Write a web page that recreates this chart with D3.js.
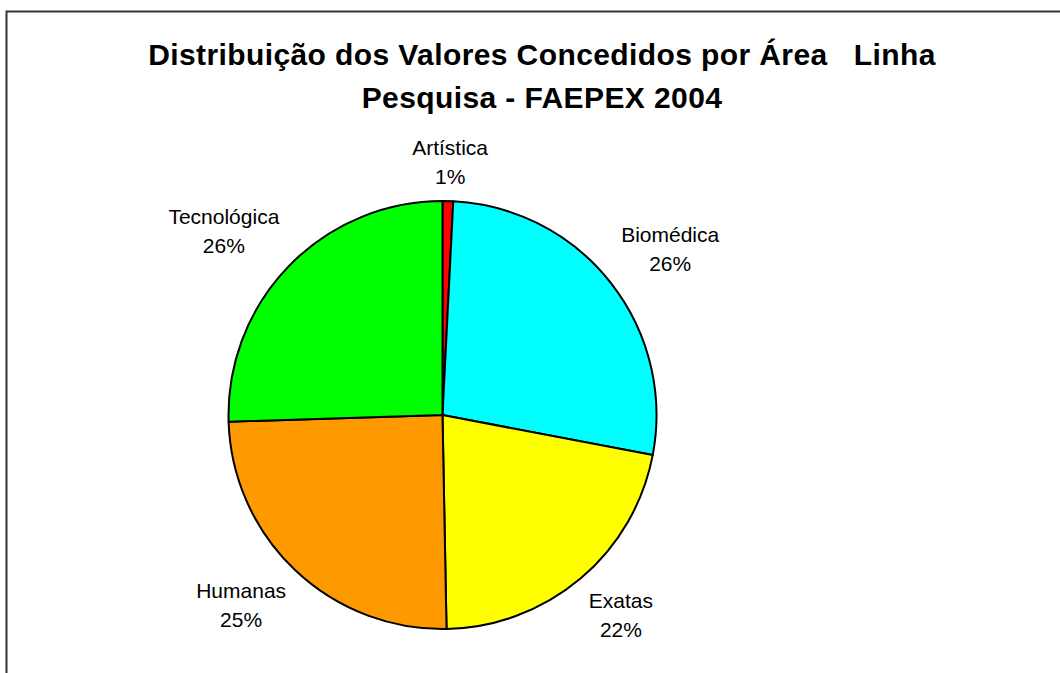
<!DOCTYPE html>
<html>
<head>
<meta charset="utf-8">
<script src="https://cdn.jsdelivr.net/npm/d3@7"></script>
<style>
  body { margin: 0; background: #fff; }
  text { font-family: "Liberation Sans", Arial, sans-serif; fill: #000; }
</style>
</head>
<body>
<svg id="chart" width="1060" height="673"></svg>
<script>
// slice data (clockwise from 12 o'clock)
var categories = ["Artística", "Biomédica", "Exatas", "Humanas", "Tecnológica"];
var values = [0.8, 27.2, 21.7, 24.8, 25.5];
var pctLabels = ["1%", "26%", "22%", "25%", "26%"];
var sliceColors = ["#ff0000", "#00ffff", "#ffff00", "#ff9900", "#00ff00"];
var titleLines = ["Distribuição dos Valores Concedidos por Área   Linha", "Pesquisa - FAEPEX 2004"];

var width = 1060,
    height = 673,
    cx = 442.5,
    cy = 415,
    radius = 214,
    labelRadius = 227;

var svg = d3.select("#chart");

// outer frame, runs off the right and bottom edges
svg.append("rect")
    .attr("x", 6.5)
    .attr("y", 11.5)
    .attr("width", width + 20)
    .attr("height", height + 20)
    .style("fill", "none")
    .style("stroke", "#333")
    .style("stroke-width", 2);

var title = svg.append("text")
    .attr("text-anchor", "middle")
    .attr("xml:space", "preserve")
    .style("font-weight", "bold")
    .style("font-size", "30px")
    .style("letter-spacing", "0.4px");
title.selectAll("tspan").data(titleLines).enter().append("tspan")
    .attr("x", 542)
    .attr("y", function(d, i) { return 65 + i * 43; })
    .text(function(d) { return d; });

var data = categories.map(function(c, i) { return {name: c, value: values[i], pct: pctLabels[i], color: sliceColors[i]}; });

var pie = d3.pie().sort(null).value(function(d) { return d.value; });
var arc = d3.arc().innerRadius(0).outerRadius(radius);

var g = svg.append("g").attr("transform", "translate(" + cx + "," + cy + ")");

g.selectAll("path.slice").data(pie(data)).enter().append("path")
    .attr("class", "slice")
    .attr("d", arc)
    .style("fill", function(d) { return d.data.color; })
    .style("stroke", "#000")
    .style("stroke-width", 2)
    .style("stroke-linejoin", "round");

// labels: the box corner facing the pie sits on labelRadius at the mid angle
// (near the vertical/horizontal the box slides back to centred)
var labels = g.selectAll("g.label").data(pie(data)).enter().append("g").attr("class", "label");
labels.each(function(d) {
  var lg = d3.select(this);
  var t = lg.append("text").attr("text-anchor", "middle").style("font-size", "21px");
  t.append("tspan").attr("x", 0).attr("y", 0).text(d.data.name);
  t.append("tspan").attr("x", 0).attr("y", 29).text(d.data.pct);
  var box = t.node().getBBox();
  var a = (d.startAngle + d.endAngle) / 2,
      sx = Math.sin(a), sy = -Math.cos(a);
  var fx = Math.max(-1, Math.min(1, sx * 2)),
      fy = Math.max(-1, Math.min(1, sy * 2));
  var px = sx * labelRadius + fx * box.width / 2,
      py = sy * labelRadius + fy * box.height / 2 - (box.y + box.height / 2);
  lg.attr("transform", "translate(" + px + "," + py + ")");
});
</script>
</body>
</html>
